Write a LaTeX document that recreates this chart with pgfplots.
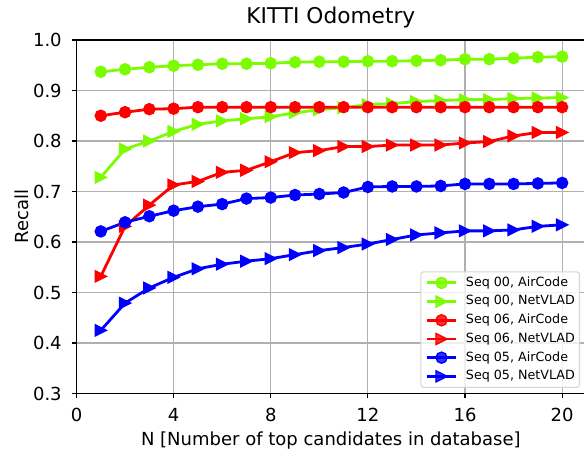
\documentclass[border=0pt]{standalone}
\usepackage{fontspec}
\setmainfont{DejaVu Sans}
\usepackage{pgfplots}
\usepackage{pgfplotstable}
\pgfplotsset{compat=1.18}
\definecolor{cgreen}{RGB}{124,252,0}
\definecolor{cred}{RGB}{255,0,0}
\definecolor{cblue}{RGB}{0,0,255}
\definecolor{gridgray}{RGB}{176,176,176}
\definecolor{legborder}{RGB}{214,214,214}
\pgfdeclareplotmark{rtri}{%
  \pgfpathmoveto{\pgfqpoint{\pgfplotmarksize}{0pt}}%
  \pgfpathlineto{\pgfqpoint{-\pgfplotmarksize}{\pgfplotmarksize}}%
  \pgfpathlineto{\pgfqpoint{-\pgfplotmarksize}{-\pgfplotmarksize}}%
  \pgfpathclose
  \pgfusepathqfillstroke}

\pgfplotstableread{
x y
1 0.937
2 0.942
3 0.946
4 0.949
5 0.951
6 0.953
7 0.953
8 0.954
9 0.956
10 0.957
11 0.957
12 0.958
13 0.958
14 0.959
15 0.960
16 0.962
17 0.962
18 0.964
19 0.966
20 0.967
}\seqAair
\pgfplotstableread{
x y
1 0.728
2 0.784
3 0.800
4 0.819
5 0.833
6 0.840
7 0.844
8 0.848
9 0.856
10 0.862
11 0.866
12 0.872
13 0.874
14 0.878
15 0.880
16 0.882
17 0.882
18 0.884
19 0.885
20 0.886
}\seqAnet
\pgfplotstableread{
x y
1 0.850
2 0.857
3 0.863
4 0.864
5 0.867
6 0.867
7 0.867
8 0.867
9 0.867
10 0.867
11 0.867
12 0.867
13 0.867
14 0.867
15 0.867
16 0.867
17 0.867
18 0.867
19 0.867
20 0.867
}\seqBair
\pgfplotstableread{
x y
1 0.532
2 0.631
3 0.673
4 0.713
5 0.720
6 0.738
7 0.742
8 0.759
9 0.777
10 0.781
11 0.789
12 0.789
13 0.792
14 0.792
15 0.792
16 0.796
17 0.799
18 0.810
19 0.817
20 0.817
}\seqBnet
\pgfplotstableread{
x y
1 0.621
2 0.639
3 0.651
4 0.662
5 0.670
6 0.675
7 0.686
8 0.688
9 0.693
10 0.695
11 0.698
12 0.709
13 0.710
14 0.710
15 0.711
16 0.715
17 0.715
18 0.715
19 0.716
20 0.717
}\seqCair
\pgfplotstableread{
x y
1 0.425
2 0.479
3 0.509
4 0.530
5 0.547
6 0.556
7 0.562
8 0.567
9 0.575
10 0.583
11 0.589
12 0.596
13 0.605
14 0.614
15 0.618
16 0.622
17 0.622
18 0.624
19 0.631
20 0.634
}\seqCnet

\begin{document}
\begin{tikzpicture}
\begin{axis}[
  scale only axis,
  width=508.7pt, height=353.5pt,
  xmin=0, xmax=20.95, ymin=0.3, ymax=1.0,
  xtick={0,4,8,12,16,20},
  ytick={0.3,0.4,0.5,0.6,0.7,0.8,0.9,1.0},
  yticklabel style={/pgf/number format/fixed, /pgf/number format/fixed zerofill, /pgf/number format/precision=1},
  /pgf/number format/assume math mode=true,
  grid=major,
  major grid style={gridgray, line width=1.1pt},
  tick align=outside,
  major tick length=4.9pt,
  tick pos=left,
  tick style={black, line width=1.1pt},
  axis line style={black, line width=1.1pt},
  tick label style={font=\fontsize{18}{21}\selectfont},
  xticklabel style={inner sep=0pt, anchor=north, yshift=-9.5pt},
  yticklabel style={inner sep=0pt, anchor=east, xshift=-9.7pt},
  title={KITTI Odometry},
  title style={at={(axis description cs:0.5,1.0283)}, anchor=base, inner sep=0pt, font=\fontsize{21.7}{25}\selectfont},
  xlabel={N [Number of top candidates in database]},
  xlabel style={at={(axis description cs:0.5,-0.1457)}, anchor=base, inner sep=0pt, font=\fontsize{18}{21}\selectfont},
  ylabel={Recall},
  ylabel style={at={(axis description cs:-0.0948,0.5)}, anchor=base, inner sep=0pt, font=\fontsize{18}{21}\selectfont},
  legend style={at={(axis description cs:0.9898,0.0156)}, anchor=south east,
    draw=legborder, line width=1.1pt, rounded corners=2.8pt,
    fill=white, fill opacity=0.8, text opacity=1, draw opacity=1,
    font=\fontsize{12.7}{15}\selectfont,
    inner xsep=4.5pt, inner ysep=5pt, row sep=6.6pt, column sep=0pt,
    nodes={inner sep=0pt, text height=9.4pt, text depth=2.7pt},
    /tikz/every odd column/.append style={column sep=8.3pt}},
  legend cell align=left,
  legend image code/.code={%
    \draw[mark repeat=2, mark phase=2] plot coordinates {(0pt,0pt) (14.7pt,0pt) (29.4pt,0pt)};},
  every axis plot/.append style={line width=2.8pt, mark size=5.55pt, mark options={solid, line width=1.4pt}},
]
\addplot[cgreen, mark=*] table {\seqAair};
\addlegendentry{Seq 00, AirCode}
\addplot[cgreen, mark=rtri] table {\seqAnet};
\addlegendentry{Seq 00, NetVLAD}
\addplot[cred, mark=*] table {\seqBair};
\addlegendentry{Seq 06, AirCode}
\addplot[cred, mark=rtri] table {\seqBnet};
\addlegendentry{Seq 06, NetVLAD}
\addplot[cblue, mark=*] table {\seqCair};
\addlegendentry{Seq 05, AirCode}
\addplot[cblue, mark=rtri] table {\seqCnet};
\addlegendentry{Seq 05, NetVLAD}
\end{axis}
\pgfresetboundingbox
\path[use as bounding box] ([xshift=-76.5pt,yshift=-55.5pt]current axis.south west) rectangle ([xshift=-1.2pt,yshift=40pt]current axis.north east);
\end{tikzpicture}
\end{document}
